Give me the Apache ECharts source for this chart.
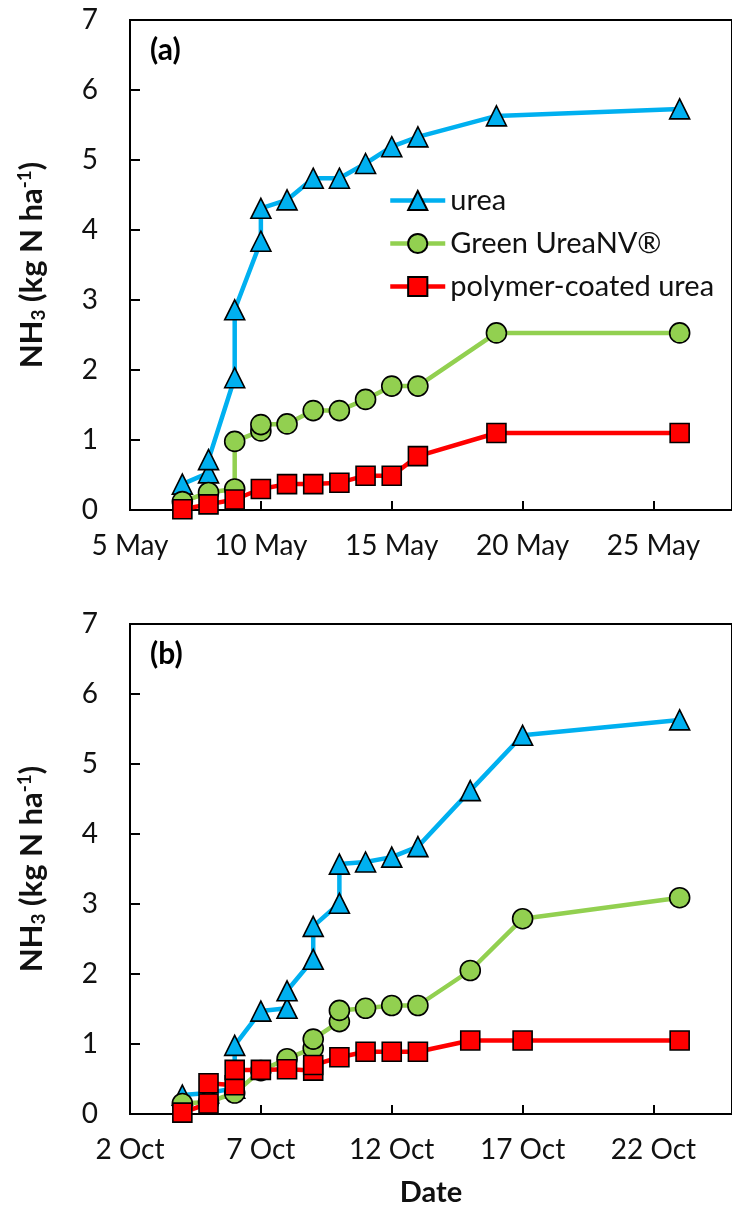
<!DOCTYPE html>
<html>
<head>
<meta charset="utf-8">
<script src="https://cdn.jsdelivr.net/npm/echarts@6/dist/echarts.min.js"></script>
<style>
  html, body { margin: 0; padding: 0; background: #fff; }
  #chart { width: 732px; height: 1220px; }
</style>
</head>
<body>
<div id="chart"></div>
<script>
// ---------- DATA ----------
const seriesNames = ['urea', 'Green UreaNV\u00AE', 'polymer-coated urea'];
const monthA = 'May';
const monthB = 'Oct';
const xTicksA = [5, 10, 15, 20, 25];
const xTicksB = [2, 7, 12, 17, 22];
const yTicks = [0, 1, 2, 3, 4, 5, 6, 7];

// Panel (a): day of May
const ureaA_days  = [7, 8, 8, 9, 9, 10, 10, 11, 12, 13, 14, 15, 16, 19, 26];
const ureaA_vals  = [0.37, 0.53, 0.72, 1.89, 2.86, 3.84, 4.31, 4.43, 4.74, 4.74, 4.95, 5.19, 5.33, 5.63, 5.73];
const greenA_days = [7, 8, 9, 9, 10, 10, 11, 12, 13, 14, 15, 16, 19, 26];
const greenA_vals = [0.12, 0.25, 0.30, 0.98, 1.13, 1.22, 1.23, 1.42, 1.42, 1.58, 1.77, 1.77, 2.53, 2.53];
const pcuA_days   = [7, 8, 9, 10, 11, 12, 13, 14, 15, 16, 19, 26];
const pcuA_vals   = [0.01, 0.08, 0.15, 0.30, 0.37, 0.37, 0.39, 0.49, 0.49, 0.77, 1.10, 1.10];

// Panel (b): day of October
const ureaB_days  = [4, 5, 6, 6, 7, 8, 8, 9, 9, 10, 10, 11, 12, 13, 15, 17, 23];
const ureaB_vals  = [0.27, 0.30, 0.37, 0.98, 1.47, 1.51, 1.76, 2.21, 2.68, 3.01, 3.57, 3.60, 3.67, 3.82, 4.62, 5.41, 5.63];
const greenB_days = [4, 5, 6, 7, 8, 9, 9, 10, 10, 11, 12, 13, 15, 17, 23];
const greenB_vals = [0.15, 0.17, 0.30, 0.62, 0.79, 0.94, 1.07, 1.32, 1.48, 1.51, 1.55, 1.55, 2.05, 2.79, 3.09];
const pcuB_days   = [4, 5, 5, 6, 6, 7, 8, 9, 9, 10, 11, 12, 13, 15, 17, 23];
const pcuB_vals   = [0.02, 0.15, 0.44, 0.41, 0.63, 0.63, 0.64, 0.62, 0.70, 0.81, 0.89, 0.89, 0.89, 1.05, 1.05, 1.05];

// ---------- STYLE ----------
const FONT = 'Lato';
const colors = ['#00B0F0', '#92D050', '#FF0000'];
const symbols = ['triangle', 'circle', 'rect'];
const symSizes = [20, 20, 19];

function pairs(xs, ys) { return xs.map((x, i) => [x, ys[i]]); }

function mkSeries(idx, grid, xs, ys) {
  return {
    type: 'line',
    name: seriesNames[idx],
    xAxisIndex: grid, yAxisIndex: grid,
    data: pairs(xs, ys),
    symbol: symbols[idx],
    symbolSize: symSizes[idx],
    lineStyle: { color: colors[idx], width: 4.5 },
    itemStyle: { color: colors[idx], borderColor: '#000', borderWidth: 1.6 },
    z: 2 + idx,
    animation: false
  };
}

function mkX(grid, ticks, month, withName) {
  return {
    type: 'value', gridIndex: grid,
    min: ticks[0], max: ticks[0] + 23, interval: 5,
    axisLine: { show: true, onZero: false, lineStyle: { color: '#000', width: 2 } },
    axisTick: { show: true, inside: true, length: 9, lineStyle: { color: '#000', width: 2 } },
    axisLabel: { showMaxLabel: false, fontFamily: FONT, fontSize: 28, color: '#111', margin: 22,
                 formatter: v => v + ' ' + month },
    splitLine: { show: false },
    name: withName ? 'Date' : '',
    nameLocation: 'middle', nameGap: 64,
    nameTextStyle: { fontFamily: FONT, fontSize: 29, fontWeight: 'bold', color: '#111' }
  };
}

function mkY(grid) {
  return {
    type: 'value', gridIndex: grid,
    min: yTicks[0], max: yTicks[yTicks.length - 1], interval: 1,
    axisLine: { show: true, lineStyle: { color: '#000', width: 2 } },
    axisTick: { show: true, inside: true, length: 10, lineStyle: { color: '#000', width: 2 } },
    axisLabel: { fontFamily: FONT, fontSize: 28, color: '#111', margin: 32 },
    splitLine: { show: false },
    name: '{b|NH}{s|3}{b| (kg N ha}{p|-1}{b|)}',
    nameLocation: 'middle', nameGap: 82, nameRotate: 90,
    nameTextStyle: {
      rich: {
        b: { fontFamily: FONT, fontSize: 31, fontWeight: 'bold', color: '#111' },
        s: { fontFamily: FONT, fontSize: 19, fontWeight: 'bold', color: '#111', verticalAlign: 'bottom', padding: [14, 0, 0, 0] },
        p: { fontFamily: FONT, fontSize: 19, fontWeight: 'bold', color: '#111', verticalAlign: 'top', padding: [0, 0, 12, 0] }
      }
    }
  };
}

const chart = echarts.init(document.getElementById('chart'), null, { renderer: 'canvas' });
chart.setOption({
  animation: false,
  backgroundColor: '#fff',
  grid: [
    { left: 130, top: 20, right: -2, height: 490, show: true, borderColor: '#000', borderWidth: 2, backgroundColor: 'transparent' },
    { left: 130, top: 624, right: -2, height: 490, show: true, borderColor: '#000', borderWidth: 2, backgroundColor: 'transparent' }
  ],
  xAxis: [mkX(0, xTicksA, monthA, false), mkX(1, xTicksB, monthB, true)],
  yAxis: [mkY(0), mkY(1)],
  legend: {
    data: seriesNames,
    orient: 'vertical',
    left: 383, top: 181,
    itemWidth: 55, itemHeight: 24, itemGap: 14,
    lineStyle: { width: 4.5 },
    textStyle: { fontFamily: FONT, fontSize: 29, color: '#111' },
    selectedMode: false
  },
  graphic: [
    { type: 'text', left: 150, top: 35, style: { text: '(a)', font: 'bold 30px Lato', fill: '#000' } },
    { type: 'text', left: 150, top: 639, style: { text: '(b)', font: 'bold 30px Lato', fill: '#000' } }
  ],
  series: [
    mkSeries(0, 0, ureaA_days, ureaA_vals),
    mkSeries(1, 0, greenA_days, greenA_vals),
    mkSeries(2, 0, pcuA_days, pcuA_vals),
    mkSeries(0, 1, ureaB_days, ureaB_vals),
    mkSeries(1, 1, greenB_days, greenB_vals),
    mkSeries(2, 1, pcuB_days, pcuB_vals)
  ]
});
</script>
</body>
</html>
